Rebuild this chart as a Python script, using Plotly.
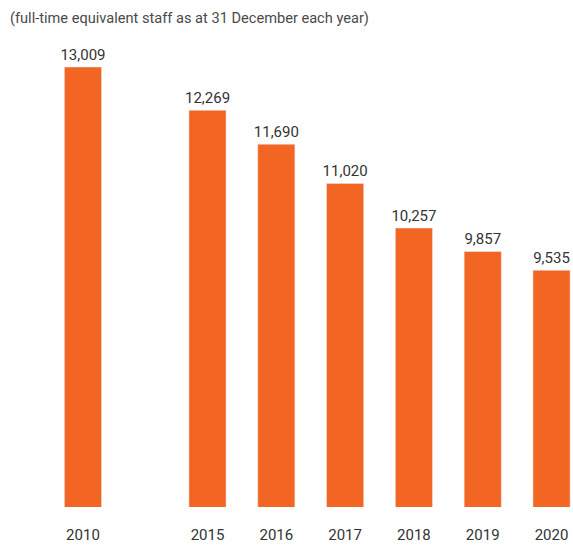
import plotly.graph_objects as go

years = ["2010", "2015", "2016", "2017", "2018", "2019", "2020"]
staff = [13009, 12269, 11690, 11020, 10257, 9857, 9535]
labels = ["13,009", "12,269", "11,690", "11,020", "10,257", "9,857", "9,535"]

# gap after the first year (break in the series)
gap = 0.81
xpos = [i + (gap if i > 0 else 0) for i in range(len(years))]

FONT = "Roboto, sans-serif"

fig = go.Figure(go.Bar(
    x=xpos, y=staff, text=labels, textposition="outside", constraintext="none",
    textfont=dict(size=15, color="#333333", family=FONT),
    marker=dict(color="#F26522"), width=0.54, cliponaxis=False,
))

fig.update_layout(
    width=573, height=547, margin=dict(l=0, r=0, t=10, b=40),
    paper_bgcolor="white", plot_bgcolor="white", showlegend=False,
    font=dict(family=FONT, color="#333333"),
    xaxis=dict(range=[-1.206, 7.122], tickmode="array", tickvals=xpos, ticktext=years,
               showgrid=False, zeroline=False, showline=False, ticks="",
               ticklabelstandoff=17,
               tickfont=dict(size=15, color="#333333", family=FONT)),
    yaxis=dict(range=[5490, 13983], visible=False),
    annotations=[dict(text="(full-time equivalent staff as at 31 December each year)",
                      xref="paper", yref="paper", x=0.0, y=1.0, xanchor="left", yanchor="middle",
                      xshift=8, yshift=-8, showarrow=False,
                      font=dict(size=14.6, color="#4a4a4a", family=FONT))],
)

fig.write_html("out.html")
